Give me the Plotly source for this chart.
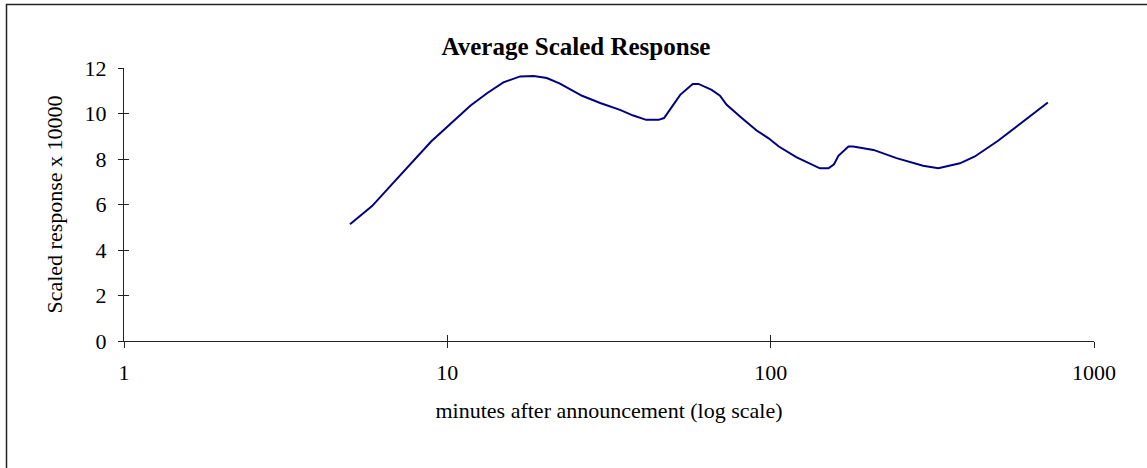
import plotly.graph_objects as go

# ---- data ----
minutes = [5.0, 5.85, 6.66, 8.91, 11.8, 13.3, 14.9, 16.8, 18.5, 20.3, 22.3,
           26.1, 29.7, 34.2, 37.6, 41.2, 45.0, 46.8, 52.5, 57.4, 59.8, 65.7,
           69.7, 73.1, 81.4, 90.5, 98.3, 106, 120, 142, 151, 157, 162, 174,
           180, 208, 245, 296, 330, 385, 428, 505, 720]
response = [5.13, 5.93, 6.81, 8.77, 10.35, 10.90, 11.37, 11.63, 11.65, 11.56,
            11.31, 10.78, 10.46, 10.16, 9.91, 9.72, 9.72, 9.80, 10.82, 11.30,
            11.30, 11.04, 10.78, 10.38, 9.80, 9.25, 8.92, 8.55, 8.08, 7.59,
            7.59, 7.77, 8.14, 8.55, 8.55, 8.40, 8.04, 7.70, 7.59, 7.81, 8.11,
            8.80, 10.48]

x_ticks = [1, 10, 100, 1000]
x_ticklabels = ["1", "10", "100", "1000"]
y_ticks = [0, 2, 4, 6, 8, 10, 12]

title_text = "Average Scaled Response"
x_title = "minutes after announcement (log scale)"
y_title = "Scaled response x 10000"

FONT = "Liberation Serif, Times New Roman, serif"
AX = "#222222"

fig = go.Figure()
fig.add_trace(go.Scatter(x=minutes, y=response, mode="lines",
                         line=dict(color="#000080", width=2),
                         showlegend=False, hoverinfo="x+y"))
# invisible trace for the overlay axes that draw the inner half of the cross ticks
fig.add_trace(go.Scatter(x=[None], y=[None], xaxis="x2", yaxis="y2",
                         mode="lines", showlegend=False, hoverinfo="skip"))

common_font = dict(family=FONT, size=22, color="black")

fig.update_layout(
    width=1147, height=468,
    paper_bgcolor="white", plot_bgcolor="white",
    margin=dict(l=124, r=53, t=68, b=127),
    font=common_font,
    title=dict(text="<b>" + title_text + "</b>", x=576 / 1147, xref="container",
               xanchor="center", y=1 - 46.5 / 468, yref="container",
               yanchor="middle", font=dict(family=FONT, size=25, color="black")),
    xaxis=dict(type="log", range=[0, 3], tickvals=x_ticks, ticktext=x_ticklabels,
               ticks="outside", ticklen=6, tickwidth=1, tickcolor=AX,
               showline=True, linecolor=AX, linewidth=1,
               showgrid=False, zeroline=False, ticklabelstandoff=6,
               tickfont=common_font,
               title=dict(text=x_title, font=common_font, standoff=18)),
    xaxis2=dict(type="log", range=[0, 3], overlaying="x", anchor="y",
                tickvals=x_ticks, ticks="inside", ticklen=6, tickwidth=1,
                tickcolor=AX, showticklabels=False, showline=False,
                showgrid=False, zeroline=False),
    yaxis=dict(range=[0, 12], tickvals=y_ticks,
               ticks="outside", ticklen=5, tickwidth=1, tickcolor=AX,
               showline=True, linecolor=AX, linewidth=1,
               showgrid=False, zeroline=False, ticklabelstandoff=7,
               tickfont=common_font,
               title=dict(text=y_title, font=common_font, standoff=15)),
    yaxis2=dict(range=[0, 12], overlaying="y", anchor="x", side="left",
                tickvals=y_ticks, ticks="inside", ticklen=5, tickwidth=1,
                tickcolor=AX, showticklabels=False, showline=False,
                showgrid=False, zeroline=False),
)

# outer chart frame (extends past the right and bottom edges of the picture)
fig.add_shape(type="rect", xref="paper", yref="paper",
              x0=(6.5 - 124) / 970, x1=1.2, y0=-0.6, y1=(341 - 4.5) / 273,
              line=dict(color="#222222", width=1.5), fillcolor="rgba(0,0,0,0)",
              layer="below")

fig.write_html("out.html", config={"displayModeBar": False},
               post_script="document.body.style.margin='0';")
